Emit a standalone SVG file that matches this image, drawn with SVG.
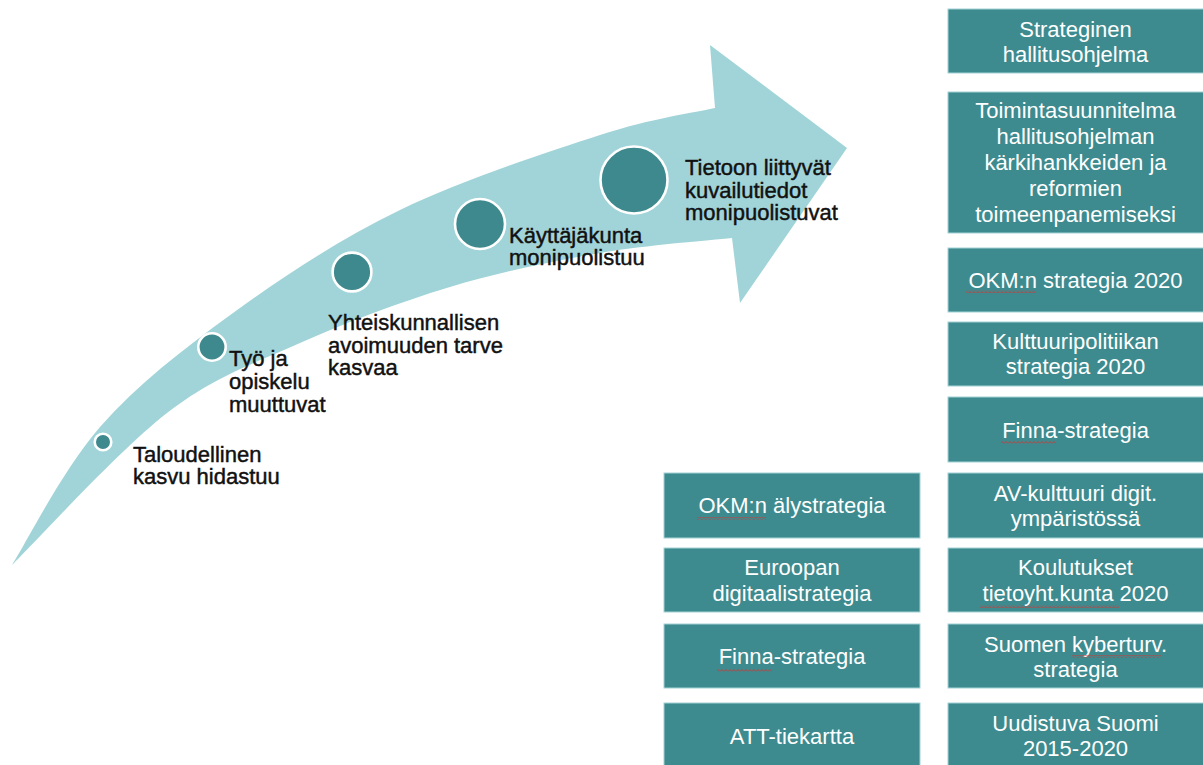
<svg xmlns="http://www.w3.org/2000/svg" width="1203" height="765" viewBox="0 0 1203 765">
  <defs>
    <style>
      .lbl { font-family: "Liberation Sans", Arial, sans-serif; font-size: 22px; fill: #111; stroke: #111; stroke-width: 0.45; }
      .box rect { fill: #3e8b8f; stroke: #a3d2d5; stroke-width: 1; }
      .box text { font-family: "Liberation Sans", Arial, sans-serif; font-size: 22px; fill: #ffffff; text-anchor: middle; }
      .dot { fill: #3d898d; stroke: #ffffff; stroke-width: 2.6; }
      .sq { fill: url(#wavy); }
    </style>
    <pattern id="wavy" x="0" y="0" width="4" height="3" patternUnits="userSpaceOnUse">
      <path d="M0,2.5 L2,0.5 L4,2.5" fill="none" stroke="#d8322f" stroke-width="0.9"/>
    </pattern>
  </defs>
  <rect width="1203" height="765" fill="#ffffff"/>

  <g id="arrow">
    <path fill="#a1d4d8" d="M12,565 C26.7,542 63.2,469 100,427 C136.8,385 183,349.2 233,313 C283,276.8 338.8,239.7 400,210 C461.2,180.3 547.5,152 600,135 C652.5,118 695.8,112.5 715,108 L710,45 L847,148 L740,303 L732,238 C710,240.5 647,244.8 600,253 C553,261.2 500,272 450,287 C400,302 347.2,322 300,343 C252.8,364 215,376 167,413 C119,450 37.8,539.7 12,565 Z"/>
  </g>

  <g id="milestones">
    <g id="m1">
      <circle class="dot" cx="103" cy="442" r="8.3"/>
      <text class="lbl" x="133" y="462">Taloudellinen</text>
      <text class="lbl" x="133" y="484">kasvu hidastuu</text>
    </g>
    <g id="m2">
      <circle class="dot" cx="212" cy="347" r="13.7"/>
      <text class="lbl" x="229" y="366">Työ ja</text>
      <text class="lbl" x="229" y="389">opiskelu</text>
      <text class="lbl" x="229" y="412">muuttuvat</text>
    </g>
    <g id="m3">
      <circle class="dot" cx="352" cy="272" r="19.4"/>
      <text class="lbl" x="328" y="330">Yhteiskunnallisen</text>
      <text class="lbl" x="328" y="352.5">avoimuuden tarve</text>
      <text class="lbl" x="328" y="375">kasvaa</text>
    </g>
    <g id="m4">
      <circle class="dot" cx="480" cy="224" r="25"/>
      <text class="lbl" x="509" y="243">Käyttäjäkunta</text>
      <text class="lbl" x="509" y="265">monipuolistuu</text>
    </g>
    <g id="m5">
      <circle class="dot" cx="634" cy="180" r="33.5"/>
      <text class="lbl" x="685" y="175">Tietoon liittyvät</text>
      <text class="lbl" x="685" y="197.5">kuvailutiedot</text>
      <text class="lbl" x="685" y="220">monipuolistuvat</text>
    </g>
  </g>

  <g id="right-column">
    <g id="r1" class="box">
      <rect x="948" y="9" width="256" height="64"/>
      <text x="1075.5" y="36.5">Strateginen</text>
      <text x="1075.5" y="61.5">hallitusohjelma</text>
    </g>
    <g id="r2" class="box">
      <rect x="948" y="92" width="256" height="141"/>
      <text x="1075.5" y="118">Toimintasuunnitelma</text>
      <text x="1075.5" y="144">hallitusohjelman</text>
      <text x="1075.5" y="170">kärkihankkeiden ja</text>
      <text x="1075.5" y="196">reformien</text>
      <text x="1075.5" y="222">toimeenpanemiseksi</text>
    </g>
    <g id="r3" class="box">
      <rect x="948" y="248" width="256" height="64"/>
      <text x="1075.5" y="287.5">OKM:n strategia 2020</text>
    </g>
    <g id="r4" class="box">
      <rect x="948" y="322" width="256" height="64"/>
      <text x="1075.5" y="348.5">Kulttuuripolitiikan</text>
      <text x="1075.5" y="373.5">strategia 2020</text>
    </g>
    <g id="r5" class="box">
      <rect x="948" y="397" width="256" height="65"/>
      <text x="1075.5" y="437.5">Finna-strategia</text>
    </g>
    <g id="r6" class="box">
      <rect x="948" y="473" width="256" height="65"/>
      <text x="1075.5" y="500.5">AV-kulttuuri digit.</text>
      <text x="1075.5" y="525.5">ympäristössä</text>
    </g>
    <g id="r7" class="box">
      <rect x="948" y="548" width="256" height="64"/>
      <text x="1075.5" y="575">Koulutukset</text>
      <text x="1075.5" y="600.5">tietoyht.kunta 2020</text>
    </g>
    <g id="r8" class="box">
      <rect x="948" y="624" width="256" height="64"/>
      <text x="1075.5" y="651.5">Suomen kyberturv.</text>
      <text x="1075.5" y="676.5">strategia</text>
    </g>
    <g id="r9" class="box">
      <rect x="948" y="703" width="256" height="66"/>
      <text x="1075.5" y="730.5">Uudistuva Suomi</text>
      <text x="1075.5" y="755.5">2015-2020</text>
    </g>
  </g>

  <g id="left-column">
    <g id="l1" class="box">
      <rect x="664" y="473" width="256" height="65"/>
      <text x="792" y="513">OKM:n älystrategia</text>
    </g>
    <g id="l2" class="box">
      <rect x="664" y="548" width="256" height="64"/>
      <text x="792" y="575">Euroopan</text>
      <text x="792" y="600.5">digitaalistrategia</text>
    </g>
    <g id="l3" class="box">
      <rect x="664" y="624" width="256" height="64"/>
      <text x="792" y="664">Finna-strategia</text>
    </g>
    <g id="l4" class="box">
      <rect x="664" y="703" width="256" height="66"/>
      <text x="792" y="743.5">ATT-tiekartta</text>
    </g>
  </g>

  <g id="spellcheck-marks">
    <rect class="sq" x="966" y="290" width="70" height="3"/>
    <rect class="sq" x="1001" y="441" width="55" height="3"/>
    <rect class="sq" x="980" y="605" width="139" height="3"/>
    <rect class="sq" x="1072" y="655" width="89" height="3"/>
    <rect class="sq" x="697" y="517" width="69" height="3"/>
    <rect class="sq" x="717" y="669" width="55" height="3"/>
  </g>

  <g id="connectors"></g>
</svg>
